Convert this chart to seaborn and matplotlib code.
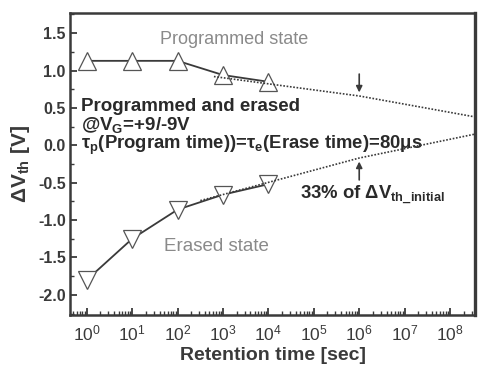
import numpy as np
import pandas as pd
import matplotlib
matplotlib.use("Agg")
import matplotlib.pyplot as plt
from matplotlib.ticker import LogLocator, MultipleLocator, FixedLocator, NullFormatter
import seaborn as sns

# ---- data ----
time_s = [1e0, 1e1, 1e2, 1e3, 1e4]
programmed_dvth = [1.13, 1.13, 1.13, 0.94, 0.85]
erased_dvth = [-1.80, -1.25, -0.86, -0.66, -0.52]

prog_fit_x = [10**2.8, 1e6, 10**8.55]
prog_fit_y = [0.92, 0.66, 0.38]
erase_fit_x = [10**2.5, 1e6, 10**8.55]
erase_fit_y = [-0.74, -0.17, 0.15]

xtick_vals = [1e0, 1e1, 1e2, 1e3, 1e4, 1e5, 1e6, 1e7, 1e8]
xtick_labels = [r"10$^{\mathrm{%d}}$" % i for i in range(9)]
ytick_vals = [-2.0, -1.5, -1.0, -0.5, 0.0, 0.5, 1.0, 1.5]
ytick_labels = ["-2.0", "-1.5", "-1.0", "-0.5", "0.0", "0.5", "1.0", "1.5"]

sns.set_theme(style="white")
plt.rcParams['font.family'] = ['Liberation Sans', 'DejaVu Sans']
plt.rcParams['mathtext.fontset'] = 'custom'
plt.rcParams['mathtext.rm'] = 'Liberation Sans'
plt.rcParams['mathtext.bf'] = 'Liberation Sans:bold'
plt.rcParams['mathtext.it'] = 'Liberation Sans:italic'

ink = '#3a3a3a'
grey = '#8a8a8a'

fig = plt.figure(figsize=(4.93, 3.69), dpi=100)
ax = fig.add_axes([70/493, 1-315/369, 405/493, 302/369])

df_p = pd.DataFrame({"t": time_s, "v": programmed_dvth})
df_e = pd.DataFrame({"t": time_s, "v": erased_dvth})
df_pf = pd.DataFrame({"t": prog_fit_x, "v": prog_fit_y})
df_ef = pd.DataFrame({"t": erase_fit_x, "v": erase_fit_y})

sns.lineplot(data=df_pf, x="t", y="v", ax=ax, color=ink, lw=1.2, linestyle=(0, (1, 1)), zorder=4)
sns.lineplot(data=df_ef, x="t", y="v", ax=ax, color=ink, lw=1.2, linestyle=(0, (1, 1)), zorder=4)
sns.lineplot(data=df_p, x="t", y="v", ax=ax, color=ink, lw=1.3, marker='^', markersize=13,
             markerfacecolor='white', markeredgecolor='#555555', markeredgewidth=0.9, zorder=3)
sns.lineplot(data=df_e, x="t", y="v", ax=ax, color=ink, lw=1.3, marker='v', markersize=13,
             markerfacecolor='white', markeredgecolor='#555555', markeredgewidth=0.9, zorder=3)

ax.set_xscale('log')
ax.set_xlim(10**-0.37, 10**8.55)
ax.set_ylim(-2.27, 1.77)

ax.xaxis.set_major_locator(FixedLocator(xtick_vals))
ax.set_xticks(xtick_vals, xtick_labels)
ax.xaxis.set_minor_locator(LogLocator(base=10, subs=np.arange(2, 10), numticks=20))
ax.xaxis.set_minor_formatter(NullFormatter())
ax.set_yticks(ytick_vals, ytick_labels)
ax.yaxis.set_minor_locator(MultipleLocator(0.25))

ax.tick_params(axis='both', which='both', direction='in', top=False, right=False,
               bottom=True, left=True, color=ink)
ax.tick_params(axis='both', which='major', length=5, width=1.3)
ax.tick_params(axis='both', which='minor', length=3, width=1.0)
ax.tick_params(axis='y', which='major', labelsize=11.5, labelcolor=ink, pad=3)
ax.tick_params(axis='x', which='major', labelsize=12.5, labelcolor=ink, pad=6)
for lab in ax.get_yticklabels():
    lab.set_fontweight('bold')

for side, sp in ax.spines.items():
    sp.set_visible(True)
    sp.set_color(ink)
    sp.set_linewidth(1.8)
ax.spines['right'].set_linewidth(2.4)

ax.set_xlabel("Retention time [sec]", fontsize=14, fontweight='bold', color=ink, labelpad=3)
ax.set_ylabel(r"ΔV$_{\mathbf{th}}$ [V]", fontsize=15, fontweight='bold', color=ink, labelpad=4)

ax.text(0.222, 0.911, "Programmed state", transform=ax.transAxes, fontsize=13,
        color=grey, va='center', ha='left')
ax.text(0.232, 0.228, "Erased state", transform=ax.transAxes, fontsize=13.5,
        color=grey, va='center', ha='left')
ax.text(0.027, 0.692, "Programmed and erased", transform=ax.transAxes, fontsize=13.5,
        fontweight='bold', color='#2a2a2a', va='center', ha='left')
ax.text(0.027, 0.628, r"@V$_{\mathbf{G}}$=+9/-9V", transform=ax.transAxes, fontsize=13.5,
        fontweight='bold', color='#2a2a2a', va='center', ha='left')
ax.text(0.027, 0.560, r"τ$_{\mathbf{p}}$(Program time))=τ$_{\mathbf{e}}$(Erase time)=80μs",
        transform=ax.transAxes, fontsize=13.3, fontweight='bold', color='#2a2a2a',
        va='center', ha='left')
ax.text(0.568, 0.397, r"33% of ΔV$_{\mathbf{th\_initial}}$", transform=ax.transAxes,
        fontsize=13.3, fontweight='bold', color='#2a2a2a', va='center', ha='left')

ax.annotate("", xy=(1e6, 0.67), xytext=(1e6, 0.99),
            arrowprops=dict(arrowstyle='-|>', color=ink, lw=1.2, mutation_scale=9))
ax.annotate("", xy=(1e6, -0.18), xytext=(1e6, -0.50),
            arrowprops=dict(arrowstyle='-|>', color=ink, lw=1.2, mutation_scale=9))

fig.savefig("out.png", dpi=100, facecolor='white')
